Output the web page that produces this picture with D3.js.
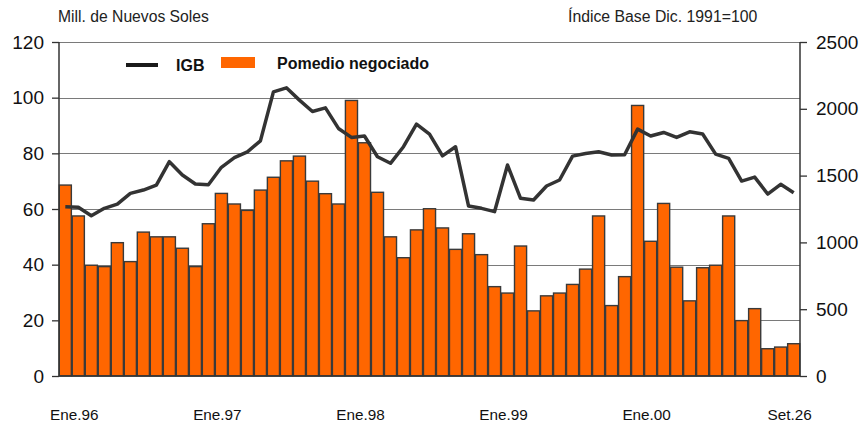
<!DOCTYPE html>
<html><head><meta charset="utf-8">
<script src="https://cdn.jsdelivr.net/npm/d3@7"></script>
<style>
html,body{margin:0;padding:0;background:#fff;}
svg{display:block;font-family:"Liberation Sans",Arial,sans-serif;}
</style></head>
<body>
<svg id="chart" width="864" height="426"></svg>
<script>
const categories = [
 "Ene.96","Feb.96","Mar.96","Abr.96","May.96","Jun.96","Jul.96","Ago.96","Set.96","Oct.96","Nov.96","Dic.96",
 "Ene.97","Feb.97","Mar.97","Abr.97","May.97","Jun.97","Jul.97","Ago.97","Set.97","Oct.97","Nov.97","Dic.97",
 "Ene.98","Feb.98","Mar.98","Abr.98","May.98","Jun.98","Jul.98","Ago.98","Set.98","Oct.98","Nov.98","Dic.98",
 "Ene.99","Feb.99","Mar.99","Abr.99","May.99","Jun.99","Jul.99","Ago.99","Set.99","Oct.99","Nov.99","Dic.99",
 "Ene.00","Feb.00","Mar.00","Abr.00","May.00","Jun.00","Jul.00","Ago.00","Set.00"
];
// Promedio negociado (Mill. de Nuevos Soles) - left axis
const promedio = [
 68.6,57.5,39.8,39.3,47.9,41.1,51.7,50.0,50.0,45.9,39.3,54.7,
 65.6,61.8,59.5,66.8,71.4,77.3,79.0,70.0,65.5,61.8,99.0,83.8,
 66.0,50.0,42.5,52.5,60.1,53.2,45.5,51.1,43.6,32.1,29.8,46.7,
 23.4,28.8,29.8,32.9,38.4,57.5,25.3,35.7,97.2,48.4,62.0,39.1,
 27.0,38.9,39.8,57.5,19.9,24.2,9.8,10.4,11.6
];
// IGB (Índice Base Dic. 1991=100) - right axis
const igb = [
 1267,1263,1200,1255,1287,1367,1392,1429,1604,1504,1437,1432,
 1562,1634,1678,1760,2127,2157,2065,1980,2007,1853,1786,1796,
 1641,1592,1716,1885,1811,1648,1716,1273,1255,1230,1579,1330,
 1317,1422,1467,1646,1666,1678,1654,1656,1848,1796,1823,1786,
 1828,1811,1661,1629,1459,1489,1362,1435,1372
];
const leftTicks = [0,20,40,60,80,100,120];
const rightTicks = [0,500,1000,1500,2000,2500];
const xTickLabels = ["Ene.96","Ene.97","Ene.98","Ene.99","Ene.00","Set.26"];
const xTickStep = 11;
const leftTitle = "Mill. de Nuevos Soles";
const rightTitle = "Índice Base Dic. 1991=100";
const legendLabels = ["IGB","Pomedio negociado"];

const svg = d3.select("#chart");
const L = 59, R = 800, T = 42, B = 376;

const x = d3.scaleBand().domain(d3.range(categories.length)).range([L, R]).paddingInner(0.07).paddingOuter(0.02);
const yL = d3.scaleLinear().domain([0,120]).range([B, T]);
const yR = d3.scaleLinear().domain([0,2500]).range([B, T]);

// gridlines
svg.append("g").selectAll("line").data(leftTicks.filter(d=>d>0)).join("line")
  .attr("x1", L).attr("x2", R)
  .attr("y1", d=>Math.round(yL(d))+0.5).attr("y2", d=>Math.round(yL(d))+0.5)
  .attr("stroke", "#7a7a7a").attr("stroke-width", 1);

// bars
svg.append("g").selectAll("rect").data(promedio).join("rect")
  .attr("x", (d,i)=>x(i)).attr("width", x.bandwidth())
  .attr("y", d=>yL(d)).attr("height", d=>B - yL(d))
  .attr("fill", "#FF6600").attr("stroke", "#3a3a3a").attr("stroke-width", 1.4);

// IGB line
const line = d3.line().x((d,i)=>x(i)+x.bandwidth()/2).y(d=>yR(d));
svg.append("path").datum(igb).attr("d", line)
  .attr("fill","none").attr("stroke","#333").attr("stroke-width",3.5).attr("stroke-linejoin","round");

// axes
const axL = svg.append("g").attr("transform",`translate(${L},0)`)
  .call(d3.axisLeft(yL).tickValues(leftTicks).tickSize(7).tickPadding(8).tickFormat(d3.format("d")));
const axR = svg.append("g").attr("transform",`translate(${R},0)`)
  .call(d3.axisRight(yR).tickValues(rightTicks).tickSize(7).tickPadding(9).tickFormat(d3.format("d")));
[axL, axR].forEach(a=>{
  a.select(".domain").attr("stroke","#333").attr("stroke-width",1.5).attr("d", `M0,${B}V${T}`);
  a.selectAll(".tick line").attr("stroke","#333").attr("stroke-width",1.3);
  a.selectAll(".tick text").attr("font-size",19).attr("fill","#111").attr("font-family","Liberation Sans, Arial, sans-serif");
});
// bottom axis
const tickIdx = xTickLabels.map((_,k)=>k*xTickStep);
const axB = svg.append("g").attr("transform",`translate(0,${B})`)
  .call(d3.axisBottom(x).tickValues(tickIdx).tickSize(0).tickPadding(33).tickFormat((d,k)=>xTickLabels[k]));
axB.select(".domain").attr("stroke","#333").attr("stroke-width",1.5).attr("d",`M${L},0H${R}`);
axB.selectAll(".tick text").attr("font-size",15.3).attr("fill","#111").attr("dx",9)
  .attr("font-family","Liberation Sans, Arial, sans-serif");

// titles
svg.append("text").attr("x",58).attr("y",22).attr("font-size",15.7).attr("fill","#222").text(leftTitle);
svg.append("text").attr("x",568).attr("y",22).attr("font-size",15.8).attr("fill","#222").text(rightTitle);

// legend
svg.append("line").attr("x1",126).attr("x2",158).attr("y1",65).attr("y2",65).attr("stroke","#1a1a1a").attr("stroke-width",4);
svg.append("text").attr("x",176).attr("y",71).attr("font-size",16).attr("font-weight","bold").attr("fill","#111").text(legendLabels[0]);
svg.append("rect").attr("x",221).attr("y",57).attr("width",34).attr("height",11).attr("fill","#FF6600");
svg.append("text").attr("x",277).attr("y",69).attr("font-size",16).attr("font-weight","bold").attr("fill","#111").text(legendLabels[1]);
</script>
</body></html>
